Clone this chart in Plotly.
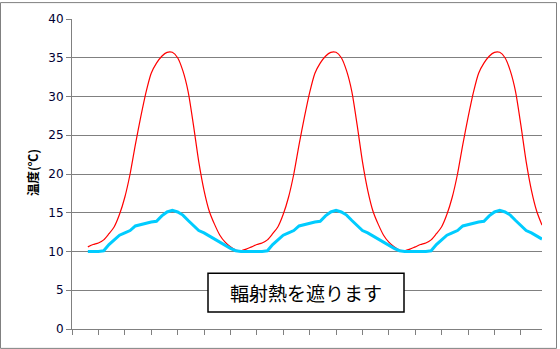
import plotly.graph_objects as go

# category positions (time steps) of the plotted points
x_idx = list(range(3, 90))

# red: temperature without shading (℃)
red_temp = [
    10.6, 10.9, 11.1, 11.5, 12.3, 13.2, 14.8, 17.0, 20.0, 23.8, 27.3, 30.5, 33.0, 34.3, 35.2, 35.7,
    35.7, 35.0, 33.3, 30.6, 26.3, 21.6, 17.9, 15.2, 13.5, 12.1, 11.2, 10.6, 10.2, 10.1, 10.3,
    10.6, 10.9, 11.1, 11.5, 12.3, 13.2, 14.8, 17.0, 20.0, 23.8, 27.3, 30.5, 33.0, 34.3, 35.2, 35.7,
    35.7, 35.0, 33.3, 30.6, 26.3, 21.6, 17.9, 15.2, 13.5, 12.1, 11.2, 10.6, 10.2, 10.1, 10.3,
    10.6, 10.9, 11.1, 11.5, 12.3, 13.2, 14.8, 17.0, 20.0, 23.8, 27.3, 30.5, 33.0, 34.3, 35.2, 35.7,
    35.7, 35.0, 33.3, 30.6, 26.3, 21.6, 17.9, 15.2, 13.4,
]

# blue: temperature with radiant heat blocked (℃)
blue_temp = [
    10.0, 10.0, 10.0, 10.1, 10.9, 11.5, 12.1, 12.4, 12.7, 13.3, 13.5, 13.6, 13.8, 13.9, 14.6, 15.1,
    15.3, 15.1, 14.7, 14.0, 13.3, 12.7, 12.4, 12.0, 11.5, 11.1, 10.7, 10.4, 10.1, 10.0, 10.0,
    10.0, 10.0, 10.0, 10.1, 10.9, 11.5, 12.1, 12.4, 12.7, 13.3, 13.5, 13.6, 13.8, 13.9, 14.6, 15.1,
    15.3, 15.1, 14.7, 14.0, 13.3, 12.7, 12.4, 12.0, 11.5, 11.1, 10.7, 10.4, 10.1, 10.0, 10.0,
    10.0, 10.0, 10.0, 10.1, 10.9, 11.5, 12.1, 12.4, 12.7, 13.3, 13.5, 13.6, 13.8, 13.9, 14.6, 15.1,
    15.3, 15.1, 14.7, 14.0, 13.3, 12.7, 12.4, 12.0, 11.6,
]

y_ticks = [0, 5, 10, 15, 20, 25, 30, 35, 40]
x_ticks = list(range(0, 90, 5))
y_title = "温度(℃)"
box_text = "輻射熱を遮ります"

# plot-area pixel geometry
W, H = 560, 349
L, R, T, B = 72, 542, 17, 329
pw, ph = R - L, B - T


def px(x):
    return (x - L) / pw


def py(y):
    return (B - y) / ph


fig = go.Figure()
fig.add_trace(go.Scatter(x=x_idx, y=red_temp, mode="lines",
                         line=dict(color="#FF0000", width=1.2, shape="spline", smoothing=0.7),
                         showlegend=False))
fig.add_trace(go.Scatter(x=x_idx, y=blue_temp, mode="lines",
                         line=dict(color="#00CCFF", width=3), showlegend=False))

fig.update_layout(
    width=W, height=H,
    margin=dict(l=L, r=W - R, t=T, b=H - B, pad=0),
    paper_bgcolor="white", plot_bgcolor="white",
    font=dict(family="DejaVu Sans", size=12, color="#000000"),
    xaxis=dict(range=[0, 89], tickvals=x_ticks, showticklabels=False,
               ticks="outside", ticklen=5, tickcolor="#808080", tickwidth=1,
               showgrid=False, zeroline=False, showline=True,
               linecolor="#808080", linewidth=1),
    yaxis=dict(range=[0, 40], tickvals=y_ticks, ticks="outside", ticklen=5,
               tickcolor="#808080", tickwidth=1, showgrid=True,
               gridcolor="#808080", gridwidth=1, zeroline=False,
               showline=True, linecolor="#808080", linewidth=1,
               tickfont=dict(family="DejaVu Sans", size=12, color="#000033")),
)

# outer chart border
fig.add_shape(type="rect", xref="paper", yref="paper",
              x0=px(0.5), x1=px(556.5), y0=py(348.5), y1=py(0.5),
              line=dict(color="#808080", width=1), layer="below")

# text box
fig.add_shape(type="rect", xref="paper", yref="paper",
              x0=px(208), x1=px(404), y0=py(312), y1=py(273),
              line=dict(color="#000000", width=1.5), fillcolor="white")
fig.add_annotation(xref="paper", yref="paper", x=px(306), y=py(292.5),
                   text=box_text, showarrow=False,
                   font=dict(family="Noto Sans CJK JP", size=19, color="#000000"),
                   xanchor="center", yanchor="middle")

# y axis title
fig.add_annotation(xref="paper", yref="paper", x=px(32), y=py(172),
                   text="<b>" + y_title + "</b>", showarrow=False, textangle=-90,
                   font=dict(family="Noto Sans CJK JP", size=12.5, color="#000000"),
                   xanchor="center", yanchor="middle")

fig.write_html("out.html")
